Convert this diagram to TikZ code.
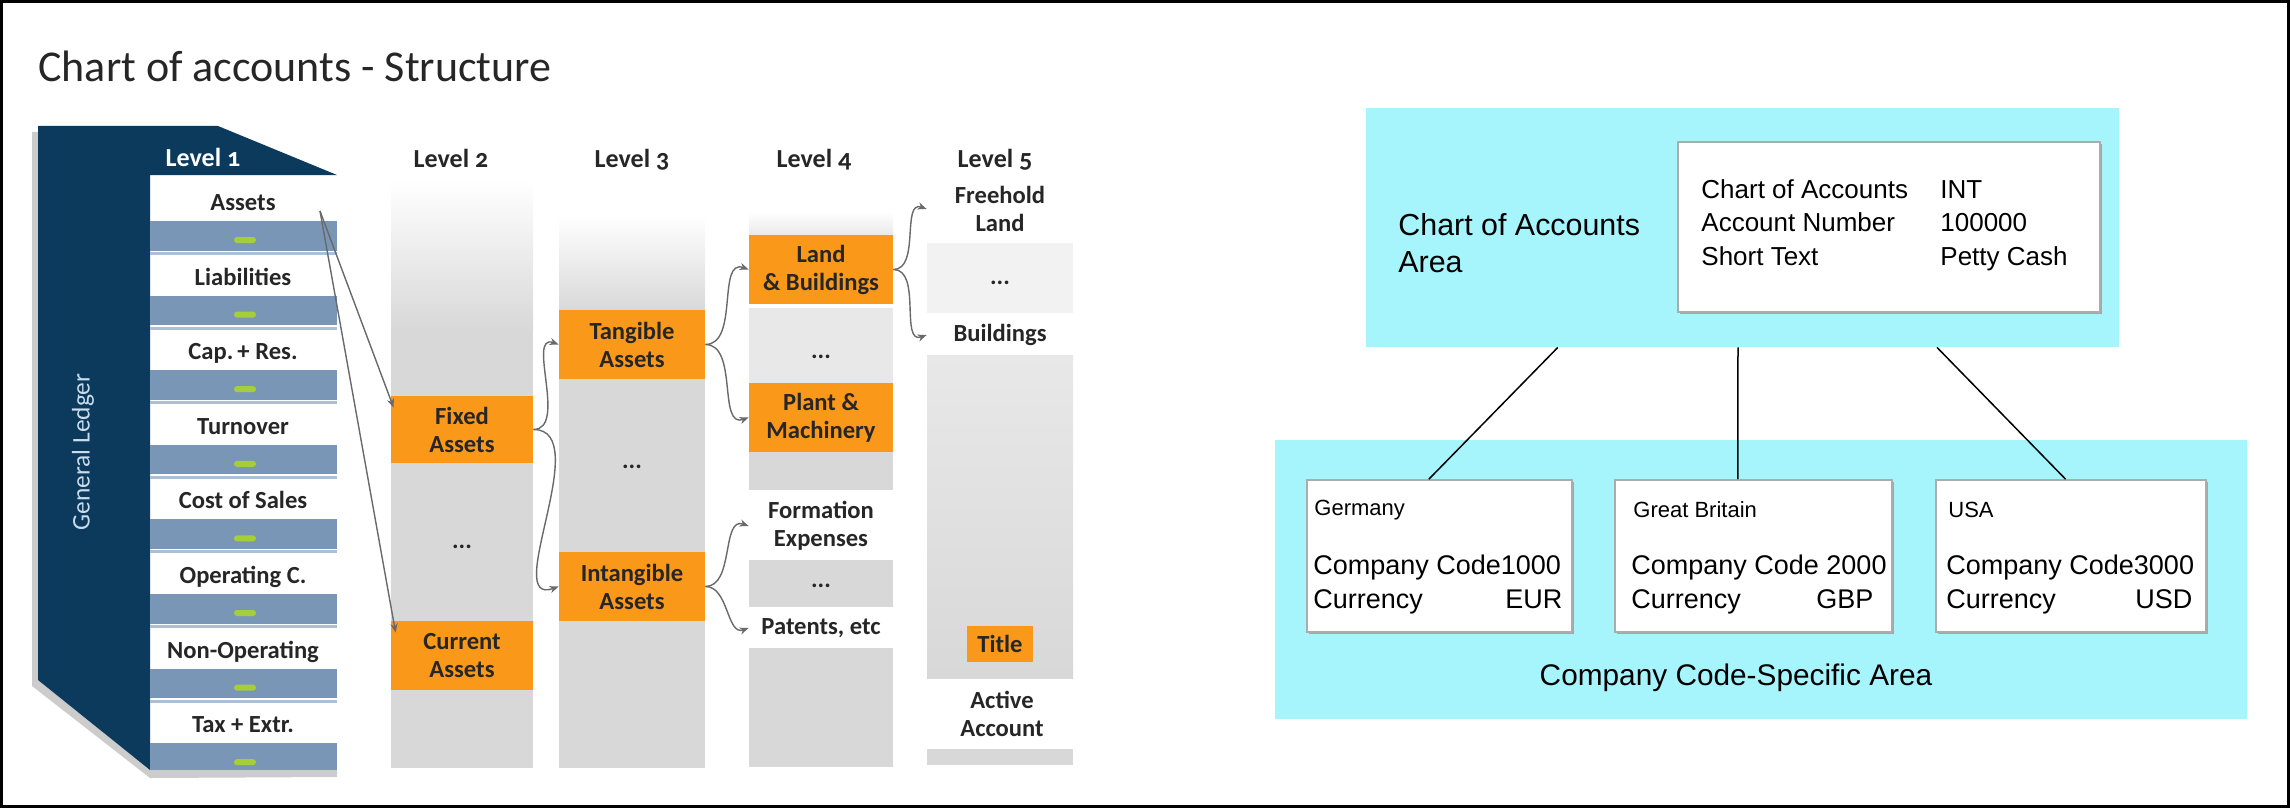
\documentclass[tikz,border=0pt]{standalone}
\usepackage{fontspec}
\setmainfont{Carlito}
\newfontfamily\levelfamily{Carlito}[Numbers=OldStyle]
\newfontfamily\arialfamily{Liberation Sans}
\usetikzlibrary{arrows.meta,calc,shadows}

\definecolor{ledgerblue}{RGB}{12,58,92}
\definecolor{ledgertext}{RGB}{200,220,236}
\definecolor{barblue}{RGB}{122,150,183}
\definecolor{stripblue}{RGB}{172,191,212}
\definecolor{dashgreen}{RGB}{166,206,57}
\definecolor{colgray}{RGB}{216,216,216}
\definecolor{palegray}{RGB}{232,232,232}
\definecolor{boxorange}{RGB}{249,152,25}
\definecolor{areacyan}{RGB}{166,244,252}
\definecolor{textdark}{RGB}{38,38,38}
\definecolor{linkgray}{RGB}{105,105,105}

\newcommand{\headfont}{\fontsize{22}{26}\selectfont}
\newcommand{\levelfont}{\levelfamily\bfseries\fontsize{13}{15}\selectfont}
\newcommand{\rowfont}{\bfseries\fontsize{12.3}{14}\selectfont}
\newcommand{\ledgerfont}{\fontsize{12.7}{15}\selectfont}
\newcommand{\areafont}{\arialfamily\fontsize{15.2}{18.5}\selectfont}
\newcommand{\infofont}{\arialfamily\fontsize{13}{16.75}\selectfont}
\newcommand{\countryfont}{\arialfamily\fontsize{11}{13}\selectfont}
\newcommand{\codefont}{\arialfamily\fontsize{13.5}{17}\selectfont}

\begin{document}
\begin{tikzpicture}[x=0.5pt,y=0.5pt,yscale=-1,xscale=1,
    rowtext/.style={anchor=base, font=\rowfont, text=textdark, inner sep=0pt},
    lvlhead/.style={anchor=base, font=\levelfont, text=textdark, inner sep=0pt},
    lvlbox/.style={fill=boxorange, minimum width=72pt, minimum height=34.5pt, inner sep=0pt, align=center, font=\rowfont, text=textdark},
    lvlrow/.style={minimum width=72pt, inner sep=0pt, align=center, font=\rowfont, text=textdark},
    link/.style={draw=linkgray, line width=0.7pt, -{Stealth[length=4.5pt,width=3.6pt]}},
    area/.style={fill=areacyan, inner sep=0pt},
    infobox/.style={fill=white, draw=gray!65, line width=0.8pt, drop shadow={shadow xshift=1.2pt, shadow yshift=-1.2pt, fill=gray!70, opacity=1}, inner sep=0pt},
    arealink/.style={draw=black, line width=0.75pt}]
        \useasboundingbox (0,0) rectangle (2290,808);
        % Text Node
        \node[anchor=base west, font=\headfont, text=textdark, inner sep=0pt] (charttitle) at (38,82) {Chart of accounts - Structure};
        %Shape: Ledger shadow
        \fill[gray!40] (32,132) -- (38,132) -- (38,680) -- (150,770) -- (337,770) -- (337,777) -- (150,778) -- (32,686) -- cycle;
        %Shape: Ledger
        \fill[ledgerblue] (38,126) -- (218,126) -- (337,175) -- (150,175) -- (150,770) -- (38,680) -- cycle;
        % Text Node
        \node[rotate=90, font=\ledgerfont, text=ledgertext] (ledger) at (83,452) {General Ledger};
        % Text Node
        \node[lvlhead, text=white] (level1) at (203,166) {Level 1};
        %Shape: Rectangle (bars of level 1)
        \fill[barblue] (150,221) rectangle (337,250.5);
        \fill[stripblue] (150,252) rectangle (337,255);
        \fill[barblue] (150,295.6) rectangle (337,325.1);
        \fill[stripblue] (150,326.6) rectangle (337,329.6);
        \fill[barblue] (150,370.2) rectangle (337,399.7);
        \fill[stripblue] (150,401.2) rectangle (337,404.2);
        \fill[barblue] (150,444.8) rectangle (337,474.3);
        \fill[stripblue] (150,475.8) rectangle (337,478.8);
        \fill[barblue] (150,519.4) rectangle (337,548.9);
        \fill[stripblue] (150,550.4) rectangle (337,553.4);
        \fill[barblue] (150,594) rectangle (337,623.5);
        \fill[stripblue] (150,625) rectangle (337,628);
        \fill[barblue] (150,668.6) rectangle (337,698.1);
        \fill[stripblue] (150,699.6) rectangle (337,702.6);
        \fill[barblue] (150,743.2) rectangle (337,770);
        %Shape: Green dashes
        \fill[dashgreen, rounded corners=1.5pt] (234,237) rectangle (256,243);
        \fill[dashgreen, rounded corners=1.5pt] (234,311.6) rectangle (256,317.6);
        \fill[dashgreen, rounded corners=1.5pt] (234,386.2) rectangle (256,392.2);
        \fill[dashgreen, rounded corners=1.5pt] (234,460.8) rectangle (256,466.8);
        \fill[dashgreen, rounded corners=1.5pt] (234,535.4) rectangle (256,541.4);
        \fill[dashgreen, rounded corners=1.5pt] (234,610) rectangle (256,616);
        \fill[dashgreen, rounded corners=1.5pt] (234,684.6) rectangle (256,690.6);
        \fill[dashgreen, rounded corners=1.5pt] (234,759.2) rectangle (256,765.2);
        % Text Node
        \node[rowtext] (assets) at (243,210.5) {Assets};
        % Text Node
        \node[rowtext] (liabilities) at (243,285.1) {Liabilities};
        % Text Node
        \node[rowtext] (capres) at (243,359.7) {Cap.\,+ Res.};
        % Text Node
        \node[rowtext] (turnover) at (243,434.3) {Turnover};
        % Text Node
        \node[rowtext] (costsales) at (243,508.9) {Cost of Sales};
        % Text Node
        \node[rowtext] (operating) at (243,583.5) {Operating C.};
        % Text Node
        \node[rowtext] (nonoperating) at (243,658.1) {Non-Operating};
        % Text Node
        \node[rowtext] (taxextr) at (243,732.7) {Tax + Extr.};

        %Shape: Level 2 column
        \shade[top color=white, bottom color=colgray] (391,180) rectangle (533,330);
        \fill[colgray] (391,329) rectangle (533,768);
        %Shape: Level 3 column
        \shade[top color=white, bottom color=colgray] (559,215) rectangle (705,312);
        \fill[colgray] (559,311) rectangle (705,768);
        %Shape: Level 4 column
        \shade[top color=white, bottom color=palegray] (749,212) rectangle (893,236);
        \fill[palegray] (749,308) rectangle (893,384);
        \fill[colgray] (749,451) rectangle (893,490);
        \fill[colgray] (749,560) rectangle (893,607);
        \fill[colgray] (749,648) rectangle (893,767);
        %Shape: Level 5 column
        \fill[gray!10] (927,243) rectangle (1073,313);
        \shade[top color=palegray, bottom color=colgray] (927,355) rectangle (1073,678);
        \fill[colgray] (927,749) rectangle (1073,765);

        % Text Node
        \node[lvlhead] (level2) at (451,168) {Level 2};
        % Text Node
        \node[lvlhead] (level3) at (632,168) {Level 3};
        % Text Node
        \node[lvlhead] (level4) at (814,168) {Level 4};
        % Text Node
        \node[lvlhead] (level5) at (995,168) {Level 5};

        %Shape: Rectangle
        \node[lvlbox, minimum width=71pt, minimum height=33.5pt] (fixed) at (462,429.5) {Fixed\\Assets};
        \node[lvlrow, minimum width=71pt] (dots2) at (462,547) {...};
        \node[lvlbox, minimum width=71pt] (current) at (462,655.5) {Current\\Assets};
        %Shape: Rectangle
        \node[lvlbox, minimum width=73pt] (tangible) at (632,344.5) {Tangible\\Assets};
        \node[lvlrow, minimum width=73pt] (dots3) at (632,467) {...};
        \node[lvlbox, minimum width=73pt] (intangible) at (632,586.5) {Intangible\\Assets};
        %Shape: Rectangle
        \node[lvlbox] (land) at (821,269.5) {Land\\\& Buildings};
        \node[lvlrow] (dots4a) at (821,357) {...};
        \node[lvlbox] (plant) at (821,417.5) {Plant \&\\Machinery};
        \node[lvlrow] (formation) at (821,526) {Formation\\Expenses};
        \node[lvlrow] (dots4b) at (821,586) {...};
        \node[lvlrow] (patents) at (821,628) {Patents, etc};
        %Shape: Rectangle
        \node[lvlrow, minimum width=73pt] (freehold) at (1000,209) {Freehold\\Land};
        \node[lvlrow, minimum width=73pt] (dots5) at (1000,283) {...};
        \node[lvlrow, minimum width=73pt] (buildings) at (1000,335) {Buildings};
        \node[lvlbox, minimum width=33pt, minimum height=18pt] (title) at (1000,644) {Title};
        \node[lvlrow, minimum width=73pt] (active) at (1002,714) {Active\\Account};

        %Straight Lines
        \coordinate (assetsout) at (320,211);
        \draw[link] (assetsout) -- ($(fixed.north west)+(3,12)$);
        \draw[link] (assetsout) -- ($(current.north west)+(5,12)$);
        %Curve Lines
        \draw[link] (fixed.east) to[out=0,in=200] (tangible.west);
        \draw[link] (fixed.east) to[out=0,in=160] (intangible.west);
        \draw[link] (tangible.east) to[out=0,in=200] (land.west);
        \draw[link] (tangible.east) to[out=0,in=160] (plant.west);
        \draw[link] (intangible.east) to[out=0,in=200] (formation.west);
        \draw[link] (intangible.east) to[out=0,in=160] (patents.west);
        \draw[link] (land.east) to[out=0,in=200] (freehold.west);
        \draw[link] (land.east) to[out=0,in=160] (buildings.west);

        %Shape: Rectangle (chart of accounts area)
        \node[area, minimum width=376.5pt, minimum height=119.5pt] (coaarea) at (1742.5,227.5) {};
        \node[infobox, minimum width=211pt, minimum height=85pt] (accinfo) at (1889,227) {};
        % Text Node
        \node[anchor=west, align=left, font=\areafont, inner sep=0pt] (coalabel) at (1398,243) {Chart of Accounts\\Area};
        % Text Node
        \node[anchor=west, font=\infofont, inner sep=0pt] (accrows) at (1701,225) {\begin{tabular}{@{}p{119.5pt}@{}l@{}}Chart of Accounts & INT\\Account Number & 100000\\Short Text & Petty Cash\end{tabular}};

        %Shape: Rectangle (company code area)
        \node[area, minimum width=486pt, minimum height=139.5pt] (ccarea) at (1761,579.5) {};
        \node[infobox, minimum width=132.5pt, minimum height=76pt] (germany) at (1439.5,556) {};
        \node[infobox, minimum width=138.5pt, minimum height=76pt] (britain) at (1753.5,556) {};
        \node[infobox, minimum width=135pt, minimum height=76pt] (usa) at (2071,556) {};
        % Text Node
        \node[anchor=west, font=\countryfont, inner sep=0pt] (germanyname) at (1314,510) {Germany};
        \node[anchor=west, align=left, font=\codefont, inner sep=0pt] (germanycode) at (1313,585) {Company Code1000\\\makebox[124.5pt]{Currency\hfill EUR}};
        % Text Node
        \node[anchor=west, font=\countryfont, inner sep=0pt] (britainname) at (1633,510) {Great Britain};
        \node[anchor=west, align=left, font=\codefont, inner sep=0pt] (britaincode) at (1631,585) {Company Code 2000\\\makebox[121pt]{Currency\hfill GBP}};
        % Text Node
        \node[anchor=west, font=\countryfont, inner sep=0pt] (usaname) at (1948,510) {USA};
        \node[anchor=west, align=left, font=\codefont, inner sep=0pt] (usacode) at (1946,585) {Company Code3000\\\makebox[123pt]{Currency\hfill USD}};
        % Text Node
        \node[font=\arialfamily\fontsize{14.9}{17}\selectfont, inner sep=0pt] (cclabel) at (1736,678) {Company Code-Specific Area};

        %Straight Lines
        \draw[arealink] ($(coaarea.south west)!0.255!(coaarea.south east)$) -- ($(germany.north west)!0.46!(germany.north east)$);
        \draw[arealink] ($(coaarea.south west)!0.494!(coaarea.south east)$) -- ($(britain.north west)!0.444!(britain.north east)$);
        \draw[arealink] ($(coaarea.south west)!0.758!(coaarea.south east)$) -- ($(usa.north west)!0.48!(usa.north east)$);

        %Shape: Frame
        \draw[line width=1.5pt] (1.5,1.5) rectangle (2288.5,806.5);
\end{tikzpicture}
\end{document}
